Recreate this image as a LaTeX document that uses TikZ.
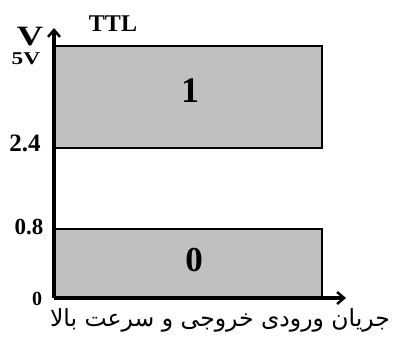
\documentclass[tikz,border=0pt]{standalone}
\usepackage{fontspec}
\setmainfont{Liberation Serif}
\newfontfamily\arabicfont[Script=Arabic]{DejaVu Sans}
\TeXXeTstate=1
\usetikzlibrary{arrows.meta}
\begin{document}
\begin{tikzpicture}[x=1pt,y=-1pt,
  lbl/.style={inner sep=0pt},
  band/.style={fill={rgb,255:red,192;green,192;blue,192}, draw=black, line width=2.6pt},
  ax/.style={line width=3.2pt, -{Straight Barb[length=7pt,width=12pt,line width=2.5pt]}}]
\useasboundingbox (0,0) rectangle (398,345);
\draw[band] (54,46) rectangle (322,148);
\draw[band] (54,229) rectangle (322,297);
\coordinate (o) at (54,298);
\coordinate (ytip) at (54,28);
\coordinate (xtip) at (346,298);
\draw[ax] (o) -- (ytip);
\draw[ax] (o) -- (xtip);
\node[lbl, xscale=1.3, font=\bfseries\fontsize{28}{28}\selectfont] (v) at (30,37) {V};
\node[lbl, xscale=1.3, font=\bfseries\fontsize{18}{18}\selectfont] (f) at (26,59) {5V};
\node[lbl, font=\bfseries\fontsize{24}{24}\selectfont] (ttl) at (113,24) {TTL};
\node[lbl, font=\bfseries\fontsize{25}{25}\selectfont] (a) at (25,143) {2.4};
\node[lbl, font=\bfseries\fontsize{23}{23}\selectfont] (b) at (29,227) {0.8};
\node[lbl, font=\bfseries\fontsize{20}{20}\selectfont] (z) at (37,299) {0};
\node[lbl, font=\bfseries\fontsize{36}{36}\selectfont] (one) at (190,91) {1};
\node[lbl, font=\bfseries\fontsize{35}{35}\selectfont] (zero) at (194,260) {0};
\node[inner sep=0pt] (cap) at (220,320) {\arabicfont\fontsize{23.5}{23.5}\selectfont\beginR جریان ورودی خروجی و سرعت بالا\endR};
\end{tikzpicture}
\end{document}
